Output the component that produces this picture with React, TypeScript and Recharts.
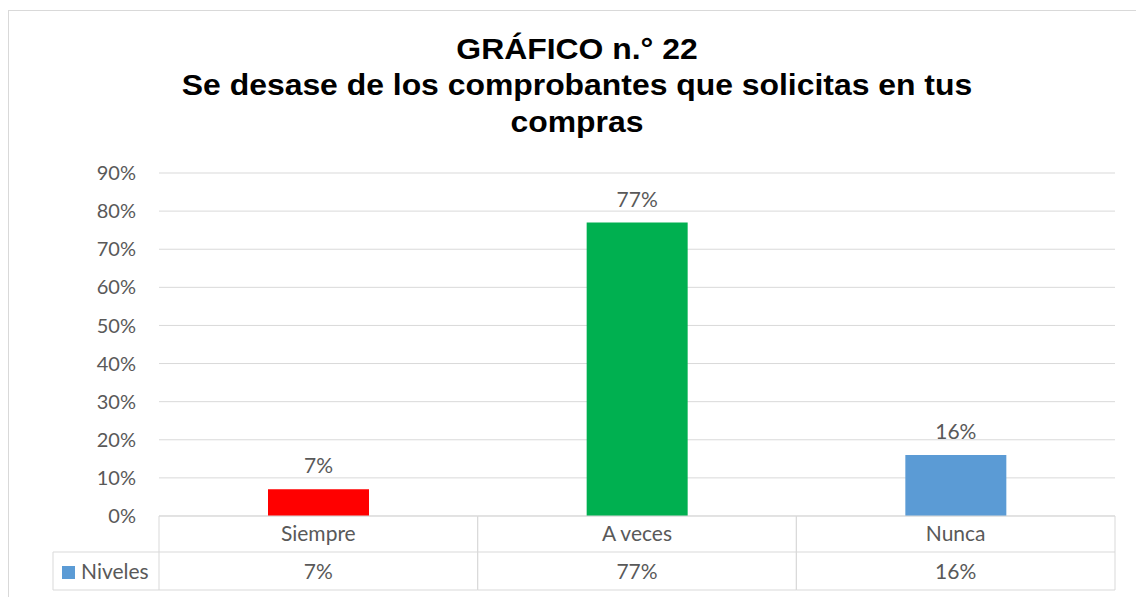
import React from "react";
import { BarChart, Bar, XAxis, YAxis, CartesianGrid, LabelList, Cell } from "recharts";

const categories = ["Siempre", "A veces", "Nunca"];
const values = [7, 77, 16];
const barColors = ["#FF0000", "#00B050", "#5B9BD5"];
const yTicks = [0, 10, 20, 30, 40, 50, 60, 70, 80, 90];
const seriesName = "Niveles";
const titleLines = ["GRÁFICO n.° 22", "Se desase de los comprobantes que solicitas en tus", "compras"];

const data = categories.map((c, i) => ({ name: c, value: values[i] }));

const W = 1136;
const H = 589;
const LABEL_FONT = "Lato, 'Open Sans', sans-serif";
const GRID = "#d9d9d9";
const TXT = "#595959";
const FS = 21;

const TableTick = (props: any) => {
  const { x, y, payload, index, width, visibleTicksCount } = props;
  const half = payload && payload.offset ? payload.offset : width / (visibleTicksCount || 3) / 2;
  const left = x - half;
  const right = x + half;
  const v = values[index];
  return (
    <g>
      <line x1={left} y1={y} x2={left} y2={y + 74} stroke={GRID} />
      <line x1={right} y1={y} x2={right} y2={y + 74} stroke={GRID} />
      <line x1={left} y1={y + 36} x2={right} y2={y + 36} stroke={GRID} />
      <line x1={left} y1={y + 74} x2={right} y2={y + 74} stroke={GRID} />
      <line x1={left} y1={y} x2={right} y2={y} stroke={GRID} />
      <text x={x} y={y + 25} textAnchor="middle" fill={TXT} fontSize={FS} fontFamily={LABEL_FONT}>
        {payload.value}
      </text>
      <text x={x} y={y + 63} textAnchor="middle" fill={TXT} fontSize={FS} fontFamily={LABEL_FONT}>
        {`${v}%`}
      </text>
      {index === 0 && (
        <g>
          <line x1={left - 106} y1={y + 36} x2={left} y2={y + 36} stroke={GRID} />
          <line x1={left - 106} y1={y + 74} x2={left} y2={y + 74} stroke={GRID} />
          <line x1={left - 106} y1={y + 36} x2={left - 106} y2={y + 74} stroke={GRID} />
          <rect x={left - 97} y={y + 50} width={13} height={13} fill={barColors[2]} />
          <text x={left - 78} y={y + 63} textAnchor="start" fill={TXT} fontSize={FS} fontFamily={LABEL_FONT}>
            {seriesName}
          </text>
        </g>
      )}
    </g>
  );
};

export default function App() {
  return (
    <div style={{ position: "relative", width: W, height: H, overflow: "hidden", background: "#fff" }}>
      <div
        style={{
          position: "absolute",
          left: 0,
          top: 2,
          width: 1300,
          height: 800,
          border: `1px solid ${GRID}`,
          boxSizing: "border-box",
        }}
      />
      <svg style={{ position: "absolute", left: 0, top: 0 }} width={W} height={H}>
        <g transform="translate(569,0) scale(1.1,1) translate(-569,0)">
          {titleLines.map((t, i) => (
            <text
              key={i}
              x={569}
              y={51 + i * 36.5}
              textAnchor="middle"
              fontFamily="'Liberation Sans', Arial, sans-serif"
              fontWeight="bold"
              fontSize={29}
              fill="#000"
            >
              {t}
            </text>
          ))}
        </g>
      </svg>
      <div style={{ position: "absolute", left: 0, top: 0 }}>
        <BarChart width={W} height={H} data={data} margin={{ top: 165, right: 29, bottom: 0, left: 0 }}>
          <CartesianGrid vertical={false} stroke={GRID} />
          <YAxis
            domain={[0, 90]}
            ticks={yTicks}
            tickFormatter={(v: number) => `${v}%`}
            axisLine={false}
            tickLine={false}
            tickSize={0}
            tickMargin={23}
            width={151}
            tick={{ fill: TXT, fontSize: 20, fontFamily: LABEL_FONT }}
            interval={0}
          />
          <XAxis
            dataKey="name"
            axisLine={false}
            tickLine={false}
            tickSize={0}
            tickMargin={0}
            height={81}
            interval={0}
            tick={<TableTick />}
          />
          <Bar dataKey="value" barSize={101} isAnimationActive={false}>
            {data.map((d, i) => (
              <Cell key={d.name} fill={barColors[i]} />
            ))}
            <LabelList
              dataKey="value"
              position="top"
              offset={16}
              formatter={(v: any) => `${v}%`}
              fill={TXT}
              fontSize={FS}
              fontFamily={LABEL_FONT}
            />
          </Bar>
        </BarChart>
      </div>
    </div>
  );
}
